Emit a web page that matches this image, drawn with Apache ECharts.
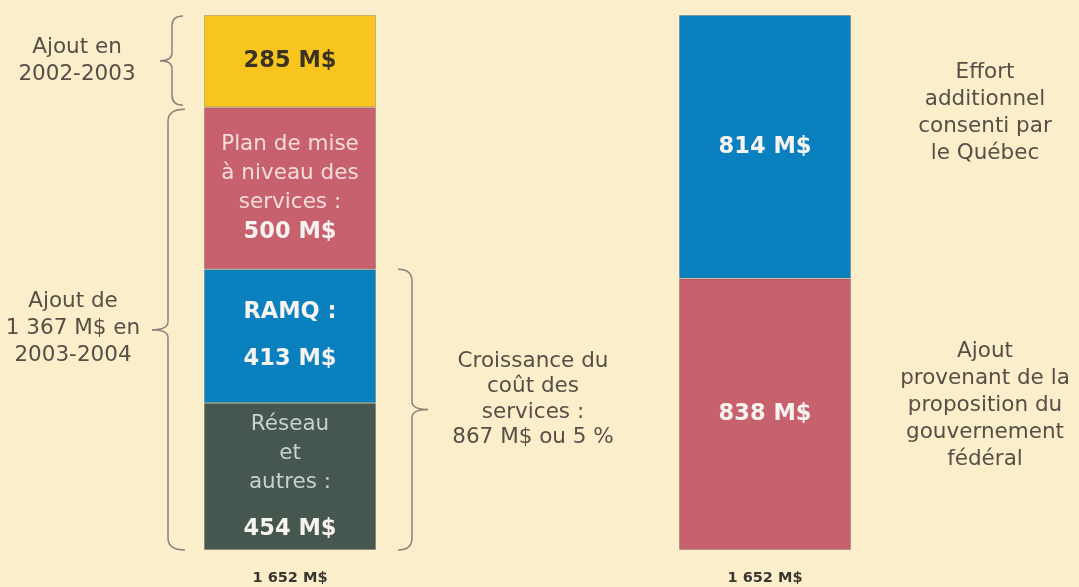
<!DOCTYPE html>
<html>
<head>
<meta charset="utf-8">
<script src="https://cdn.jsdelivr.net/npm/echarts@6/dist/echarts.min.js"></script>
<style>
  html, body { margin: 0; padding: 0; background: #fbefcb; }
  #chart { width: 1079px; height: 587px; }
</style>
</head>
<body>
<div id="chart"></div>
<script>
// ---- Data ----
const totals = [1652, 1652];
const totalLabels = ['1 652 M$', '1 652 M$'];
// Left bar, bottom to top
const leftNames = ['Réseau et autres', 'RAMQ', 'Plan de mise à niveau des services', 'Ajout en 2002-2003'];
const leftValues = [454, 413, 500, 285];
// Right bar, bottom to top
const rightNames = ['Ajout provenant de la proposition du gouvernement fédéral', 'Effort additionnel consenti par le Québec'];
const rightValues = [838, 814];
// Annotation texts
const noteAjout2002 = 'Ajout en\n2002-2003';
const noteAjout2003 = 'Ajout de\n1 367 M$ en\n2003-2004';
const noteCroissance = 'Croissance du\ncoût des\nservices :\n867 M$ ou 5 %';
const noteQuebec = 'Effort\nadditionnel\nconsenti par\nle Québec';
const noteFederal = 'Ajout\nprovenant de la\nproposition du\ngouvernement\nfédéral';

// ---- Styles ----
const C_YELLOW = '#f8c51f', C_PINK = '#c8616e', C_BLUE = '#0b80bf', C_GREEN = '#45574f';
const FONT = 'DejaVu Sans';
const TEXT = '#574e46';
const BAR_W = 172;
const border = { borderColor: 'rgba(90,80,70,0.3)', borderWidth: 1 };

const rich = {
  n:  { fontFamily: FONT, fontSize: 21.5, lineHeight: 29, color: '#f3dcdc' },
  ng: { fontFamily: FONT, fontSize: 21.5, lineHeight: 29, color: '#c9d1cc' },
  b:  { fontFamily: FONT, fontSize: 22.5, fontWeight: 'bold', lineHeight: 29, color: '#f7f3f0' },
  bd: { fontFamily: FONT, fontSize: 22.5, fontWeight: 'bold', lineHeight: 29, color: '#3b3322' },
  sp: { fontSize: 10, lineHeight: 18 }
};
const fmtM = v => v + ' M$';

function item(value, color, formatter) {
  return { value: value, itemStyle: Object.assign({ color: color }, border),
           label: { show: true, position: 'inside', formatter: formatter, rich: rich } };
}

const series = [
  { data: [ item(leftValues[0], C_GREEN, '{ng|Réseau}\n{ng|et}\n{ng|autres :}\n{sp| }\n{b|' + fmtM(leftValues[0]) + '}'),
            item(rightValues[0], C_PINK, '{b|' + fmtM(rightValues[0]) + '}') ] },
  { data: [ item(leftValues[1], C_BLUE, '{b|RAMQ :}\n{sp| }\n{b|' + fmtM(leftValues[1]) + '}'),
            item(rightValues[1], C_BLUE, '{b|' + fmtM(rightValues[1]) + '}') ] },
  { data: [ item(leftValues[2], C_PINK, '{n|Plan de mise}\n{n|à niveau des}\n{n|services :}\n{b|' + fmtM(leftValues[2]) + '}'), '-' ] },
  { data: [ item(leftValues[3], C_YELLOW, '{bd|' + fmtM(leftValues[3]) + '}'), '-' ] }
].map(s => Object.assign({ type: 'bar', stack: 'total', barWidth: BAR_W, silent: true }, s));

const chart = echarts.init(document.getElementById('chart'), null, { renderer: 'canvas' });
chart.setOption({
  backgroundColor: '#fbefcb',
  animation: false,
  grid: { left: 52.5, right: 76.5, top: 15, bottom: 37, containLabel: false },
  xAxis: {
    type: 'category', data: totalLabels,
    axisLine: { show: false }, axisTick: { show: false },
    axisLabel: { margin: 21, fontFamily: FONT, fontSize: 14.5, fontWeight: 'bold', color: '#3a3530' }
  },
  yAxis: { type: 'value', min: 0, max: Math.max.apply(null, totals), show: false, splitLine: { show: false } },
  series: series
});

// ---- Annotations (braces and texts) positioned from the axes ----
const px = (i, v) => chart.convertToPixel({ xAxisIndex: 0, yAxisIndex: 0 }, [i, v]);
const cx0 = px(0, 0)[0], cx1 = px(1, 0)[0];
const L0 = cx0 - BAR_W / 2, R0 = cx0 + BAR_W / 2, R1 = cx1 + BAR_W / 2;
const y = v => px(0, v)[1];
const cum = []; leftValues.reduce((a, v, k) => (cum[k] = a + v), 0);
const rcum = []; rightValues.reduce((a, v, k) => (rcum[k] = a + v), 0);

const BR = { stroke: '#8a8078', lineWidth: 1.5, fill: null };
function bez(x1, y1, x2, y2, cx, cy) {
  return { type: 'bezierCurve', silent: true, shape: { x1, y1, x2, y2, cpx1: cx, cpy1: cy }, style: BR };
}
function ln(x1, y1, x2, y2) {
  return { type: 'line', silent: true, shape: { x1, y1, x2, y2 }, style: BR };
}
function brace(xEnd, xLine, xTip, y1, y2, r, rm) {
  const ym = (y1 + y2) / 2;
  return [
    bez(xEnd, y1, xLine, y1 + r, xLine, y1),
    ln(xLine, y1 + r, xLine, ym - rm),
    bez(xLine, ym - rm, xTip, ym, xLine, ym),
    bez(xTip, ym, xLine, ym + rm, xLine, ym),
    ln(xLine, ym + rm, xLine, y2 - r),
    bez(xLine, y2 - r, xEnd, y2, xLine, y2)
  ];
}
function txt(s, x, yy, lh) {
  return { type: 'text', silent: true, style: { text: s, x: x, y: yy, align: 'center', verticalAlign: 'middle',
           fontFamily: FONT, fontSize: 21.5, lineHeight: lh, fill: TEXT } };
}

const yTop = y(cum[3]), yYel = y(cum[2]), yBlueTop = y(cum[1]), yBot = y(0);
const g = [];
g.push(...brace(L0 - 21, L0 - 32, L0 - 44, yTop + 1, yYel - 2, 10, 8));
g.push(...brace(L0 - 19, L0 - 36, L0 - 52, yYel + 2, yBot, 12, 8));
g.push(...brace(R0 + 22, R0 + 36, R0 + 52, yBlueTop, yBot, 12, 8));
g.push(txt(noteAjout2002, L0 - 127, (yTop + yYel) / 2, 27));
g.push(txt(noteAjout2003, L0 - 131, (yYel + yBot) / 2, 27));
g.push(txt(noteCroissance, R0 + 157, (yBlueTop + yBot) / 2 - 10, 25.5));
const yr0 = px(1, rcum[0])[1], yr1 = px(1, rcum[1])[1];
g.push(txt(noteQuebec, R1 + 134, (yr0 + yr1) / 2 - 34, 27));
g.push(txt(noteFederal, R1 + 134, (yBot + yr0) / 2 - 9, 27));
chart.setOption({ graphic: g });
</script>
</body>
</html>
